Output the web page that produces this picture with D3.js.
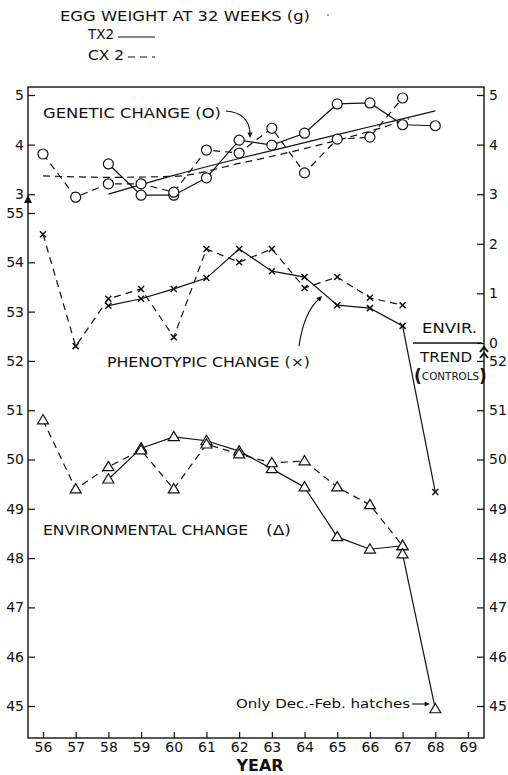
<!DOCTYPE html>
<html><head><meta charset="utf-8">
<script src="https://cdn.jsdelivr.net/npm/d3@7/dist/d3.min.js"></script>
<style>
html,body{margin:0;padding:0;background:#fff;}
svg{display:block;}
text{font-family:"DejaVu Sans",sans-serif;fill:#111;}
</style></head>
<body>
<svg id="c" width="508" height="775"></svg>
<script>
// ---------- data ----------
const years = [56,57,58,59,60,61,62,63,64,65,66,67,68];
const xTicks = [56,57,58,59,60,61,62,63,64,65,66,67,68,69];

const genTX2 = [null,null,3.61,2.98,2.98,3.33,4.09,3.99,4.23,4.82,4.84,4.40,4.38];
const genCX2 = [3.81,2.94,3.21,3.21,3.04,3.89,3.83,4.33,3.43,4.11,4.15,4.94,null];

const phenoTX2 = [null,null,53.12,53.26,53.46,53.68,54.27,53.82,53.70,53.13,53.07,52.71,49.34];
const phenoCX2 = [54.57,52.30,53.26,53.46,52.48,54.27,54.00,54.27,53.48,53.70,53.28,53.13,null];

const envTX2 = [null,null,49.60,50.23,50.46,50.38,50.17,49.81,49.44,48.43,48.18,48.25,null];
const envCX2 = [50.80,49.40,49.85,50.19,49.40,50.31,50.11,49.93,49.97,49.44,49.08,48.25,null];
const envDecFebYears = [67,68];
const envDecFeb = [48.08,44.94];

const genTrendTX2Years = [58,60,62,64,66,68];
const genTrendTX2 = [3.00,3.38,3.72,4.04,4.36,4.68];
const genTrendCX2Years = [56,58,60,62,64,66,67.2];
const genTrendCX2 = [3.37,3.34,3.36,3.62,3.92,4.27,4.52];

const leftGenTicks = [3,4,5];
const leftMainTicks = [45,46,47,48,49,50,51,52,53,54,55];
const rightGenTicks = [0,1,2,3,4,5];
const rightMainTicks = [45,46,47,48,49,50,51,52];

// ---------- layout ----------
const L = 28, R = 484, T = 87, B = 738;
const svg = d3.select("#c");
const x = d3.scaleLinear().domain([56,69]).range([43,468]);
const yMain = d3.scaleLinear().domain([45,55]).range([706,213]);
const yGen = d3.scaleLinear().domain([0,5]).range([343,95]);

// frame
svg.append("rect").attr("x",L).attr("y",T).attr("width",R-L).attr("height",B-T)
  .attr("fill","none").attr("stroke","#111").attr("stroke-width",1.4);

function styleAxis(g){
  g.select(".domain").remove();
  g.selectAll("line").attr("stroke","#111").attr("stroke-width",1.2);
  g.selectAll("text").attr("font-size",14).attr("fill","#111")
    .attr("font-family","DejaVu Sans, sans-serif");
}
// left axes
svg.append("g").attr("transform",`translate(${L},0)`)
  .call(d3.axisLeft(yGen).tickValues(leftGenTicks).tickSizeInner(-7).tickSizeOuter(0).tickPadding(4).tickFormat(d3.format("d")))
  .call(styleAxis);
svg.append("g").attr("transform",`translate(${L},0)`)
  .call(d3.axisLeft(yMain).tickValues(leftMainTicks).tickSizeInner(-7).tickSizeOuter(0).tickPadding(4).tickFormat(d3.format("d")))
  .call(styleAxis);
// right axes
svg.append("g").attr("transform",`translate(${R},0)`)
  .call(d3.axisRight(yGen).tickValues(rightGenTicks).tickSizeInner(-7).tickSizeOuter(0).tickPadding(5).tickFormat(d3.format("d")))
  .call(styleAxis);
svg.append("g").attr("transform",`translate(${R},0)`)
  .call(d3.axisRight(yMain).tickValues(rightMainTicks).tickSizeInner(-7).tickSizeOuter(0).tickPadding(5).tickFormat(d3.format("d")))
  .call(styleAxis);
// bottom axis
svg.append("g").attr("transform",`translate(0,${B})`)
  .call(d3.axisBottom(x).tickValues(xTicks).tickSizeInner(-6).tickSizeOuter(0).tickPadding(4).tickFormat(d3.format("d")))
  .call(styleAxis);

// axis break marks
svg.append("path").attr("d",`M${L-4},${203} L${L},${195} L${L+4},${203} Z`).attr("fill","#111");
svg.append("path").attr("d",`M${R-4},${352} L${R},${347} L${R+4},${352} M${R-4},${358} L${R},${353} L${R+4},${358}`)
  .attr("fill","none").attr("stroke","#111").attr("stroke-width",2);

// ---------- series ----------
function pts(ys, vals, sc){ return ys.map((yr,i)=>({yr, v:vals[i]})).filter(d=>d.v!==null).map(d=>[x(d.yr), sc(d.v)]); }
function drawLine(p, dashed, curve){
  const lg = d3.line().curve(curve || d3.curveLinear);
  svg.append("path").attr("d", lg(p)).attr("fill","none").attr("stroke","#111")
    .attr("stroke-width",1.2).attr("stroke-dasharray", dashed ? "7,5" : null);
}
const gTX = pts(years, genTX2, yGen), gCX = pts(years, genCX2, yGen);
const pTX = pts(years, phenoTX2, yMain), pCX = pts(years, phenoCX2, yMain);
const eTX = pts(years, envTX2, yMain), eCX = pts(years, envCX2, yMain);
const eDF = pts(envDecFebYears, envDecFeb, yMain);
const tTX = pts(genTrendTX2Years, genTrendTX2, yGen);
const tCX = pts(genTrendCX2Years, genTrendCX2, yGen);

drawLine(tTX, false, d3.curveMonotoneX);
drawLine(tCX, true, d3.curveMonotoneX);
drawLine(gTX, false); drawLine(gCX, true);
drawLine(pTX, false); drawLine(pCX, true);
drawLine(eTX, false); drawLine(eCX, true);
drawLine(eDF, false);

function circles(p){ svg.append("g").selectAll("circle").data(p).join("circle")
  .attr("cx",d=>d[0]).attr("cy",d=>d[1]).attr("r",5).attr("fill","#fff").attr("stroke","#111").attr("stroke-width",1.2); }
function crosses(p){ svg.append("g").selectAll("path").data(p).join("path")
  .attr("d",d=>`M${d[0]-3},${d[1]-3}L${d[0]+3},${d[1]+3}M${d[0]-3},${d[1]+3}L${d[0]+3},${d[1]-3}`)
  .attr("stroke","#111").attr("stroke-width",1.5).attr("fill","none"); }
function tris(p){ svg.append("g").selectAll("path").data(p).join("path")
  .attr("d",d=>`M${d[0]},${d[1]-5.5}L${d[0]+5.5},${d[1]+3.8}L${d[0]-5.5},${d[1]+3.8}Z`)
  .attr("stroke","#111").attr("stroke-width",1.2).attr("fill","#fff"); }
circles(gTX); circles(gCX);
crosses(pTX); crosses(pCX);
tris(eTX); tris(eCX); tris(eDF);

// ---------- text ----------
function txt(s, xx, yy, size, len, opts={}){
  const t = svg.append("text").attr("x",xx).attr("y",yy).attr("font-size",size).text(s);
  if(len) t.attr("textLength",len).attr("lengthAdjust","spacingAndGlyphs");
  if(opts.weight) t.attr("font-weight",opts.weight);
  if(opts.anchor) t.attr("text-anchor",opts.anchor);
  return t;
}
txt("EGG WEIGHT AT 32 WEEKS (g)", 60, 21, 14, 250);
svg.append("circle").attr("cx",328).attr("cy",15).attr("r",0.8).attr("fill","#333");
txt("TX2", 88, 39, 14, 26);
svg.append("line").attr("x1",118).attr("x2",155).attr("y1",37).attr("y2",37).attr("stroke","#111").attr("stroke-width",1.2);
txt("CX 2", 88, 60, 14, 36);
svg.append("line").attr("x1",128).attr("x2",155).attr("y1",57).attr("y2",57).attr("stroke","#111").attr("stroke-width",1.2).attr("stroke-dasharray","7,5");

txt("GENETIC CHANGE (O)", 43, 118, 14.5, 178);
txt("PHENOTYPIC CHANGE (×)", 107, 367, 14.5, 203);
txt("ENVIRONMENTAL CHANGE", 43, 535, 14.5, 205);
txt("(Δ)", 266, 535, 14.5, 25);
txt("ENVIR.", 422, 333, 14.5, 55);
svg.append("line").attr("x1",413).attr("x2",482).attr("y1",343).attr("y2",343).attr("stroke","#111").attr("stroke-width",1.3);
txt("TREND", 420, 362, 14.5, 52);
txt("CONTROLS", 422, 380, 10, 57);
txt("(", 414, 382, 17, null, {weight:"bold"});
txt(")", 479, 382, 17, null, {weight:"bold"});
txt("Only Dec.-Feb. hatches", 236, 708, 13, 174);
txt("YEAR", 260, 771, 16, 47, {weight:"bold", anchor:"middle"});

// arrows
function arrowHead(tipX, tipY, angle){
  const a = angle, s = 6, w = 0.45;
  const p1 = [tipX - s*Math.cos(a-w), tipY - s*Math.sin(a-w)];
  const p2 = [tipX - s*Math.cos(a+w), tipY - s*Math.sin(a+w)];
  svg.append("path").attr("d",`M${p1}L${tipX},${tipY}L${p2}Z`).attr("fill","#111");
}
svg.append("path").attr("d","M226,111 Q249,113 250,133").attr("fill","none").attr("stroke","#111").attr("stroke-width",1.1);
arrowHead(250,138,Math.PI/2);
svg.append("path").attr("d","M299,346 Q304,312 319,299").attr("fill","none").attr("stroke","#111").attr("stroke-width",1.1);
arrowHead(322,296,-Math.PI/4);
svg.append("line").attr("x1",412).attr("x2",426).attr("y1",704).attr("y2",704).attr("stroke","#111").attr("stroke-width",1.1);
arrowHead(430,704,0);
</script>
</body></html>
